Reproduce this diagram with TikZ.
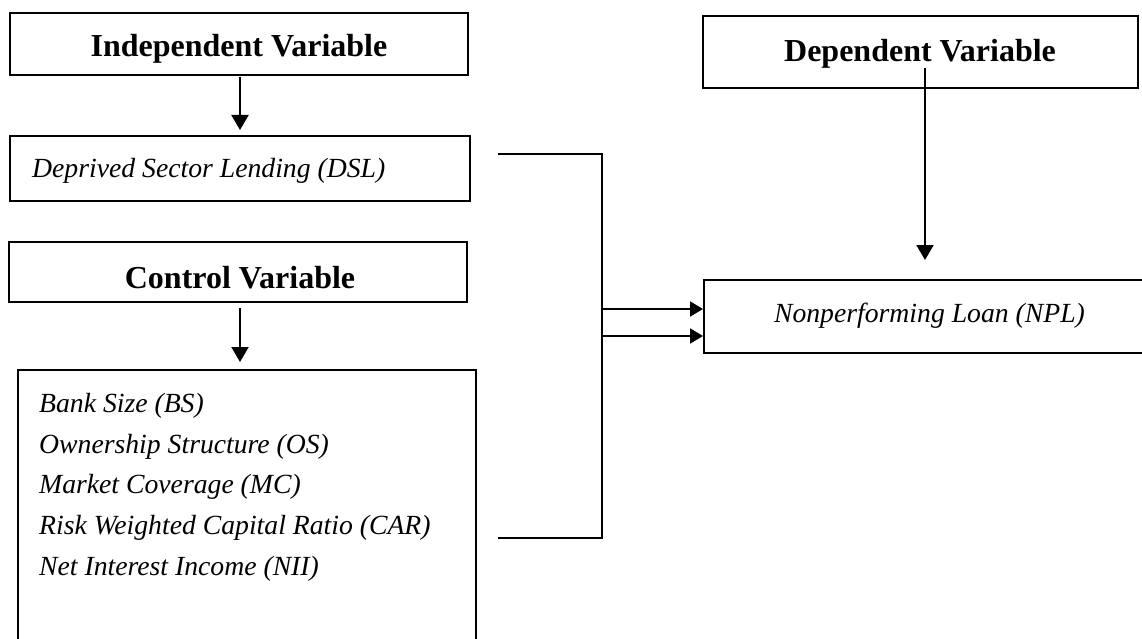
\documentclass[tikz,border=0pt]{standalone}
\usepackage{fontspec}
\setmainfont{Liberation Serif}
\usetikzlibrary{arrows.meta}
\begin{document}
\begin{tikzpicture}[x=1pt,y=-1pt,
  box/.style={draw=black,line width=2pt,inner sep=0pt,fill=none},
  ttl/.style={font=\fontsize{32}{38}\selectfont\bfseries,anchor=base,inner sep=0pt},
  itl/.style={font=\fontsize{27.7}{33}\selectfont\itshape,anchor=base west,inner sep=0pt},
  arr/.style={line width=2pt,-{Triangle[length=13pt,width=15pt]}},
  varr/.style={line width=2pt,-{Triangle[length=15pt,width=17pt]}},
  conn/.style={line width=2.5pt}]
\useasboundingbox (0,0) rectangle (1142,639);
\clip (0,0) rectangle (1142,639);
% boxes
\node[box,minimum width=458pt,minimum height=62pt] (iv) at (239,44) {};
\node[box,minimum width=460pt,minimum height=64pt] (dsl) at (240,168.5) {};
\node[box,minimum width=458pt,minimum height=60pt] (cv) at (238,272) {};
\node[box,minimum width=458pt,minimum height=290pt] (lst) at (247,515) {};
\node[box,minimum width=435pt,minimum height=72pt] (dv) at (920.5,52) {};
\node[box,minimum width=446pt,minimum height=73pt] (npl) at (927,316.5) {};
% texts
\node[ttl] (tiv) at (239,57) {Independent Variable};
\node[ttl] (tcv) at (240,288) {Control Variable};
\node[ttl] (tdv) at (920,62) {Dependent Variable};
\node[itl] (tdsl) at (32,178) {Deprived Sector Lending (DSL)};
\node[itl,anchor=base] (tnpl) at (929.5,322) {Nonperforming Loan (NPL)};
\node[itl] (l1) at (39,412) {Bank Size (BS)};
\node[itl] (l2) at (39,453) {Ownership Structure (OS)};
\node[itl] (l3) at (39,493.5) {Market Coverage (MC)};
\node[itl] (l4) at (39,534) {Risk Weighted Capital Ratio (CAR)};
\node[itl] (l5) at (39,575) {Net Interest Income (NII)};
% vertical arrows
\coordinate (s1) at (240,77);
\coordinate (e1) at (240,130);
\draw[varr] (s1) -- (e1);
\coordinate (s2) at (240,308);
\coordinate (e2) at (240,362);
\draw[varr] (s2) -- (e2);
\coordinate (s3) at (925,68);
\coordinate (e3) at (925,260);
\draw[varr] (s3) -- (e3);
% bracket connector
\coordinate (j1) at (498,154);
\coordinate (j2) at (602,154);
\coordinate (j3) at (602,538);
\coordinate (j4) at (498,538);
\draw[conn] (j1) -- (j2) -- (j3) -- (j4);
\coordinate (a1) at (602,309);
\coordinate (a2) at (602,336);
\draw[arr] (a1) -- (a1 -| npl.west);
\draw[arr] (a2) -- (a2 -| npl.west);
\end{tikzpicture}
\end{document}
